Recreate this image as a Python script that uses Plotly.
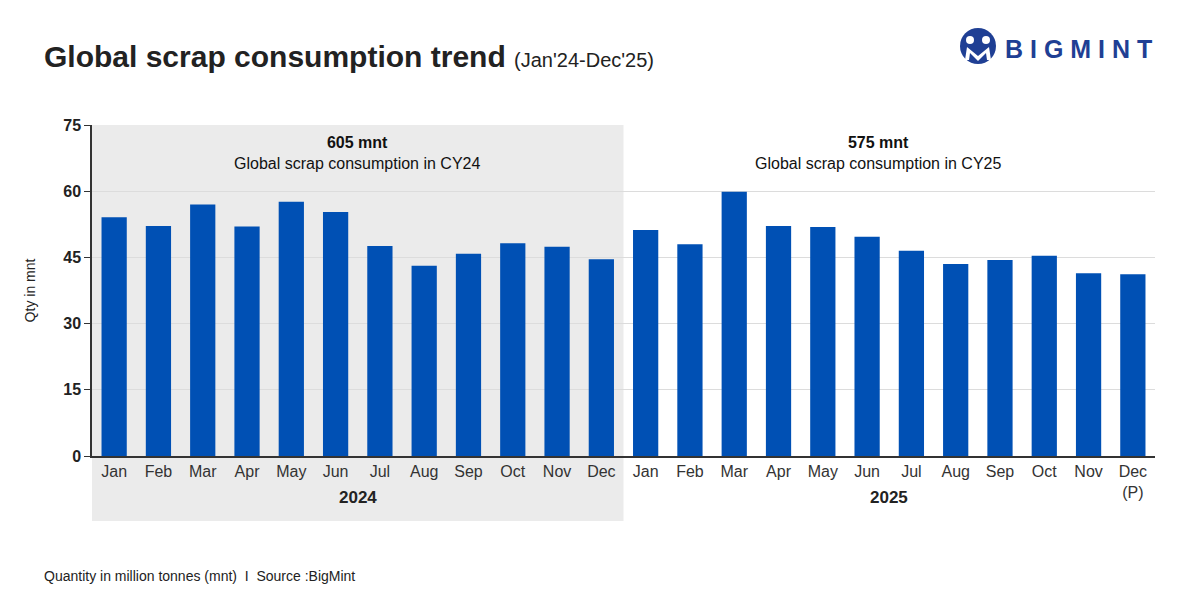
import plotly.graph_objects as go

# Monthly global scrap consumption, million tonnes
months = ["Jan", "Feb", "Mar", "Apr", "May", "Jun", "Jul", "Aug", "Sep", "Oct", "Nov", "Dec"]
years = ["2024", "2025"]
qty_2024 = [54.1, 52.1, 57.0, 52.0, 57.6, 55.3, 47.6, 43.1, 45.8, 48.2, 47.4, 44.6]
qty_2025 = [51.2, 48.0, 59.9, 52.1, 51.9, 49.7, 46.5, 43.5, 44.4, 45.4, 41.4, 41.2]
year_totals = ["605 mnt", "575 mnt"]
year_notes = ["Global scrap consumption in CY24", "Global scrap consumption in CY25"]
y_ticks = [0, 15, 30, 45, 60, 75]

categories = [f"{m} {y}" for y in years for m in months]
tick_text = months + months[:-1] + ["Dec<br>(P)"]
values = qty_2024 + qty_2025

BLUE = "#0050b4"
NAVY = "#1f3f94"
FONT = "Liberation Sans"

# page body has an 8px margin, so shift the figure up/left by that much
OFF = 8
# plot box as it should appear on screen
BOX_L, BOX_T, BOX_R, BOX_B = 92, 125, 1155, 456
PW, PH = BOX_R - BOX_L, BOX_B - BOX_T


def px(x):
    return (x - BOX_L) / PW


def py(y):
    return (BOX_B - y) / PH


fig = go.Figure()
fig.add_trace(go.Bar(
    x=categories,
    y=values,
    marker_color=BLUE,
    marker_line_width=0,
    hovertemplate="%{x}: %{y} mnt<extra></extra>",
))

shapes = [
    # grey band behind 2024
    dict(type="rect", xref="paper", yref="paper", x0=0, x1=0.5, y0=py(521), y1=1,
         fillcolor="#ebebeb", line_width=0, layer="below"),
    # logo
    dict(type="circle", xref="paper", yref="paper", x0=px(960), x1=px(996), y0=py(64), y1=py(28),
         fillcolor=NAVY, line_width=0),
    dict(type="circle", xref="paper", yref="paper", x0=px(966), x1=px(974), y0=py(44), y1=py(36),
         fillcolor="white", line_width=0),
    dict(type="circle", xref="paper", yref="paper", x0=px(982), x1=px(990), y0=py(44), y1=py(36),
         fillcolor="white", line_width=0),
    dict(type="path", xref="paper", yref="paper",
         path=(f"M {px(965)},{py(60)} L {px(967)},{py(47)} L {px(978)},{py(56)} "
               f"L {px(989)},{py(47)} L {px(991)},{py(60)} L {px(987)},{py(60)} "
               f"L {px(986)},{py(53)} L {px(978)},{py(61)} L {px(970)},{py(53)} "
               f"L {px(969)},{py(60)} Z"),
         fillcolor="white", line_width=0),
]

annotations = []
for i, (tot, note) in enumerate(zip(year_totals, year_notes)):
    xc = [357, 878][i]
    annotations.append(dict(
        xref="paper", yref="paper", x=px(xc), y=py(153), xanchor="center", yanchor="middle",
        showarrow=False, text=f"<b>{tot}</b><br>{note}", align="center",
        font=dict(family=FONT, size=16, color="#111111"),
    ))
for i, yr in enumerate(years):
    annotations.append(dict(
        xref="x", yref="paper", x=5.5 + 12 * i, y=py(497), xanchor="center", yanchor="middle",
        showarrow=False, text=f"<b>{yr}</b>", font=dict(family=FONT, size=17, color="#222222"),
    ))
annotations += [
    dict(xref="paper", yref="paper", x=px(42), y=py(576), xanchor="left", yanchor="middle",
         showarrow=False, text="Quantity in million tonnes (mnt)  I  Source :BigMint",
         font=dict(family=FONT, size=14, color="#222222")),
    dict(xref="paper", yref="paper", x=px(1003), y=py(49), xanchor="left", yanchor="middle",
         showarrow=False, text="<b>B I G M I N T</b>", font=dict(family=FONT, size=25, color=NAVY)),
    dict(xref="paper", yref="paper", x=px(42), y=py(57), xanchor="left", yanchor="middle",
         showarrow=False,
         text="<b>Global scrap consumption trend</b> "
              "<span style='font-size:20px'>(Jan'24-Dec'25)</span>",
         font=dict(family=FONT, size=30, color="#222222")),
]

fig.update_layout(
    width=1200, height=600,
    margin=dict(l=BOX_L - OFF, r=1200 - (BOX_R - OFF), t=BOX_T - OFF, b=600 - (BOX_B - OFF)),
    paper_bgcolor="white", plot_bgcolor="rgba(0,0,0,0)",
    showlegend=False,
    bargap=0.43,
    font=dict(family=FONT, color="#222222"),
    xaxis=dict(
        tickvals=categories, ticktext=tick_text,
        tickfont=dict(family=FONT, size=16, color="#333333"),
        showline=True, linecolor="#333333", linewidth=1.5,
        ticks="", showgrid=False,
    ),
    yaxis=dict(
        range=[0, 75], tickvals=y_ticks,
        tickfont=dict(family=FONT, size=16, color="#222222", weight="bold"),
        showline=True, linecolor="#333333", linewidth=1.5,
        ticks="outside", ticklen=6, tickcolor="#333333",
        showgrid=True, gridcolor="#dcdcdc", gridwidth=1,
        zeroline=False,
        title=dict(text="Qty in mnt", standoff=24,
                   font=dict(family=FONT, size=14, color="#222222")),
    ),
    shapes=shapes,
    annotations=annotations,
)

fig.write_html("out.html")
